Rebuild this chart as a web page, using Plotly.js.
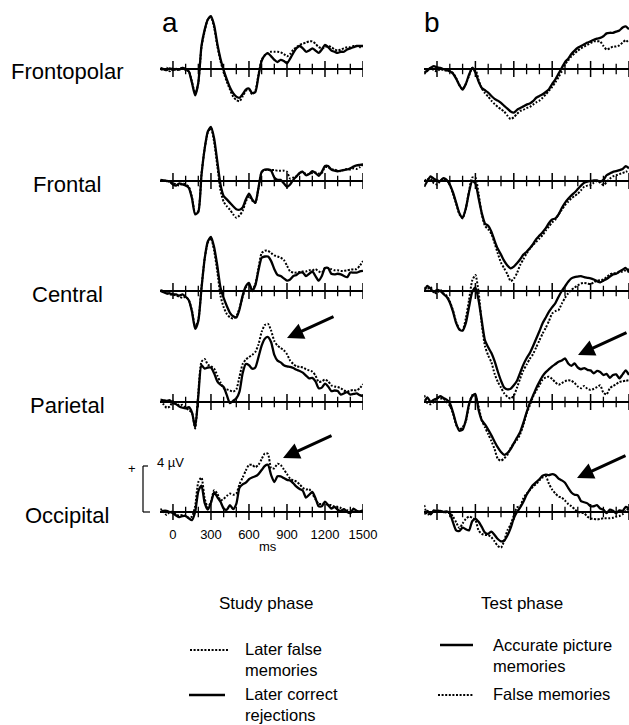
<!DOCTYPE html>
<html><head><meta charset="utf-8">
<script src="https://cdn.plot.ly/plotly-3.0.1.min.js"></script>
<style>html,body{margin:0;padding:0;background:#fff}#chart{width:629px;height:725px}</style>
</head><body><div id="chart"></div>
<script>
// ---------- DATA (µV, positive up) ----------
const timeMs = [-100,-75,-50,-25,0,25,50,75,100,125,150,175,200,225,250,275,300,325,350,375,400,425,450,475,500,525,550,575,600,625,650,675,700,725,750,775,800,825,850,875,900,925,950,975,1000,1025,1050,1075,1100,1125,1150,1175,1200,1225,1250,1275,1300,1325,1350,1375,1400,1425,1450,1475,1500];
const regions = ['Frontopolar','Frontal','Central','Parietal','Occipital'];
const tickValues = [0,300,600,900,1200,1500];
const tickLabels = ['0','300','600','900','1200','1500'];
const minorTickValues = [100,200,400,500,700,800,1000,1100,1300,1400];

// Study phase (a): later correct rejections (solid) / later false memories (dotted)
const studyCorrect_Fp = [0.1,0.0,-0.1,0.05,-0.1,0.0,-0.05,0.1,0.0,-0.2,-1.2,-2.3,-1.2,2.0,3.4,4.3,4.6,3.8,2.2,0.9,-0.1,-0.9,-1.6,-2.1,-2.4,-2.5,-2.2,-1.8,-1.7,-2.1,-2.0,-0.6,0.7,1.2,1.35,1.1,0.8,0.6,0.8,0.7,0.5,0.9,1.4,1.8,2.0,1.8,1.5,1.6,1.8,1.6,1.4,1.7,2.1,1.9,1.6,1.5,1.4,1.5,1.5,1.7,1.8,1.9,2.0,2.0,2.0];
const studyFalse_Fp = [0.0,-0.1,0.1,-0.2,0.1,-0.1,0.0,0.1,-0.1,-0.2,-1.1,-2.2,-1.2,1.9,3.3,4.3,4.5,3.6,2.0,0.7,-0.3,-1.1,-1.8,-2.4,-2.7,-2.8,-2.4,-1.9,-1.8,-2.2,-1.9,-0.5,0.8,1.2,1.4,1.5,1.5,1.5,1.45,1.3,1.1,1.3,1.7,1.9,2.1,2.2,2.3,2.4,2.4,2.2,1.9,1.8,1.9,2.0,1.9,1.7,1.6,1.7,1.8,1.9,1.9,2.0,2.0,1.9,2.0];
const studyCorrect_F = [0.1,0.05,0.0,-0.05,-0.3,-0.4,-0.2,-0.3,-0.4,-0.6,-1.5,-2.9,-2.7,0.5,2.8,4.3,4.7,3.7,1.7,-0.3,-1.3,-1.6,-1.9,-2.2,-2.45,-2.5,-2.3,-1.6,-1.1,-1.6,-1.9,-0.6,0.8,1.0,1.0,0.9,0.3,0.1,0.1,-0.2,-0.5,-0.3,0.1,0.4,0.7,0.8,0.5,0.6,0.85,0.7,0.45,0.8,1.3,1.3,1.0,0.9,0.85,0.9,0.95,1.0,1.1,1.25,1.35,1.4,1.45];
const studyFalse_F = [0.1,0.0,0.05,-0.1,-0.2,-0.3,-0.4,-0.2,-0.3,-0.5,-1.4,-2.8,-2.6,0.6,2.8,4.2,4.6,3.4,1.3,-0.8,-1.8,-2.2,-2.5,-2.9,-3.2,-3.0,-2.6,-1.8,-1.3,-1.7,-1.9,-0.6,0.75,0.95,0.95,0.95,0.95,0.9,0.9,0.9,0.8,0.2,0.3,0.4,0.7,0.8,0.6,0.6,0.7,0.75,0.65,0.7,1.2,1.2,1.0,1.0,0.9,0.85,1.0,1.05,1.0,1.1,1.05,1.2,1.45];
const studyCorrect_C = [0.0,-0.1,-0.2,-0.2,-0.3,-0.3,-0.4,-0.3,-0.5,-0.8,-1.8,-3.3,-2.6,0.2,2.8,4.3,4.7,3.8,2.2,0.3,-0.6,-1.3,-1.9,-2.2,-2.3,-1.6,-0.4,0.4,0.7,0.0,0.5,1.8,2.9,3.0,3.0,2.6,1.9,1.4,1.3,1.1,0.9,1.0,1.3,1.4,1.6,1.6,1.3,1.5,1.7,1.3,0.9,1.3,2.0,2.0,1.5,1.45,1.5,1.45,1.3,1.2,1.6,1.6,1.6,1.7,1.75];
const studyFalse_C = [0.1,0.0,-0.2,-0.3,-0.3,-0.4,-0.5,-0.6,-0.5,-0.8,-1.7,-3.1,-2.5,0.3,2.8,4.2,4.6,3.5,1.7,-0.4,-1.4,-2.0,-2.3,-2.4,-2.2,-1.5,-0.5,0.3,0.6,0.1,0.6,2.0,3.3,3.5,3.5,3.3,3.1,3.0,2.9,2.7,2.2,1.7,1.6,1.6,1.65,1.7,1.7,1.8,1.8,1.9,1.7,1.6,2.0,2.0,1.9,1.8,1.8,1.75,1.75,1.8,1.85,1.9,1.9,2.2,2.6];
const studyCorrect_P = [0.2,0.15,0.1,0.15,-0.1,-0.2,-0.4,-0.5,-0.55,-0.45,-0.9,-2.2,0.5,3.2,2.9,3.0,3.0,2.5,1.8,1.5,1.3,0.6,-0.1,0.1,0.3,0.9,2.5,3.3,3.2,2.9,3.0,3.9,4.9,5.5,5.65,5.2,4.1,3.6,3.45,3.2,3.1,3.05,2.95,2.8,2.7,2.55,2.3,2.05,2.1,1.8,1.2,1.25,1.6,1.35,0.95,1.0,0.95,0.65,0.75,0.85,0.65,0.7,0.75,0.6,0.52];
const studyFalse_P = [0.1,-0.2,-0.5,-0.4,0.1,-0.1,-0.3,-0.25,-0.5,-0.7,-0.95,-2.3,0.8,3.5,3.75,3.25,3.1,2.9,2.3,1.7,1.2,1.1,1.0,0.9,1.1,2.2,3.3,3.7,3.9,4.1,4.35,5.0,6.1,6.7,6.8,6.2,5.3,4.9,4.7,4.5,4.15,3.6,3.3,3.1,3.05,3.0,2.85,2.75,2.65,2.3,1.75,1.8,1.95,1.8,1.45,1.35,1.3,1.2,1.0,0.9,1.0,1.05,1.0,1.2,1.55];
const studyCorrect_O = [0.0,0.1,0.1,0.0,-0.1,-0.3,-0.45,-0.35,-0.35,-0.55,-0.7,0.0,1.8,2.3,0.8,0.2,0.8,1.7,1.3,0.9,0.3,0.2,0.6,0.25,0.7,2.1,2.4,2.55,2.85,3.0,3.1,3.3,3.65,4.0,4.1,3.2,2.6,3.1,3.1,2.95,2.8,2.75,2.5,2.2,2.0,1.85,1.25,1.5,1.75,1.2,0.5,0.5,0.9,0.6,0.3,0.45,0.2,0.1,0.25,0.0,-0.1,0.3,0.1,0.05,0.15];
const studyFalse_O = [0.3,0.0,-0.25,0.0,0.0,-0.25,-0.3,-0.25,-0.35,-0.5,-0.4,0.5,2.6,3.0,1.2,0.4,0.9,1.9,1.6,1.0,1.15,1.4,1.6,1.5,1.6,2.4,3.0,3.6,4.1,4.1,3.9,4.1,4.6,5.1,5.05,3.8,3.8,4.2,4.1,3.7,3.3,2.9,2.75,2.65,2.4,2.1,1.95,2.0,1.6,1.1,0.7,0.7,0.75,0.6,0.6,0.45,0.45,0.35,0.2,0.15,0.05,0.05,0.0,0.05,0.0];

// Test phase (b): accurate picture memories (solid) / false memories (dotted)
const testAccurate_Fp = [-0.3,-0.15,0.1,0.25,0.15,0.1,0.0,-0.1,-0.2,-0.4,-0.85,-1.4,-1.8,-1.3,-0.5,0.1,-0.3,-1.1,-1.65,-1.85,-2.05,-2.35,-2.6,-2.75,-2.95,-3.2,-3.45,-3.7,-3.8,-3.55,-3.4,-3.25,-3.1,-3.0,-2.8,-2.5,-2.35,-2.2,-2.0,-1.75,-1.3,-0.9,-0.4,0.1,0.6,0.9,1.3,1.6,1.85,2.0,2.15,2.3,2.4,2.55,2.65,2.7,2.85,3.1,3.15,3.15,3.25,3.35,3.6,3.7,3.45];
const testFalse_Fp = [-0.45,-0.1,0.1,-0.1,-0.2,0.0,-0.1,-0.15,-0.2,-0.35,-0.8,-1.4,-1.75,-1.3,-0.6,0.1,0.0,-0.95,-1.7,-2.1,-2.4,-2.75,-3.05,-3.3,-3.5,-3.7,-4.05,-4.35,-4.2,-3.9,-3.65,-3.55,-3.4,-3.3,-3.1,-2.9,-2.75,-2.5,-2.2,-1.9,-1.55,-1.15,-0.7,-0.2,0.4,0.75,1.1,1.35,1.6,1.8,1.95,2.1,2.25,2.4,2.4,2.4,2.0,1.7,1.8,1.95,1.95,2.05,2.3,2.5,2.25];
const testAccurate_F = [-0.5,0.0,0.4,0.2,0.05,0.0,0.25,0.1,-0.3,-1.0,-1.9,-2.8,-3.2,-2.4,-1.0,0.0,-0.2,-1.5,-2.8,-3.7,-3.9,-4.4,-5.2,-5.9,-6.4,-6.95,-7.35,-7.6,-7.45,-7.15,-6.8,-6.4,-6.15,-5.85,-5.5,-5.05,-4.75,-4.45,-4.1,-3.65,-3.35,-3.25,-2.9,-2.35,-1.9,-1.55,-1.25,-1.0,-0.7,-0.4,-0.15,-0.05,0.0,0.05,0.05,-0.05,0.1,0.5,0.65,0.8,0.85,0.95,1.05,1.3,1.1];
const testFalse_F = [0.0,0.15,0.2,-0.2,-0.3,0.0,0.2,0.1,-0.35,-1.1,-2.0,-2.9,-3.25,-2.4,-0.9,0.3,0.3,-1.1,-2.9,-3.9,-4.2,-4.6,-5.4,-6.3,-7.1,-7.6,-8.1,-8.7,-8.5,-8.0,-7.3,-6.8,-6.3,-5.9,-5.55,-5.3,-5.0,-4.7,-4.3,-3.95,-3.6,-3.35,-2.9,-2.5,-2.1,-1.8,-1.5,-1.3,-1.1,-0.8,-0.5,-0.4,-0.35,-0.15,0.0,-0.15,-0.35,-0.1,0.2,0.4,0.5,0.6,0.7,0.8,0.95];
const testAccurate_C = [0.0,0.45,0.2,-0.1,0.1,0.0,-0.25,-0.5,-1.0,-1.8,-2.8,-3.35,-3.45,-2.8,-1.4,-0.1,0.3,-0.8,-2.6,-4.3,-4.9,-5.4,-6.1,-7.0,-7.8,-8.4,-8.55,-8.5,-8.2,-7.8,-7.1,-6.4,-5.85,-5.4,-4.8,-4.15,-3.5,-2.8,-2.3,-1.8,-1.4,-1.05,-0.5,0.0,0.4,0.8,1.1,1.2,1.25,1.3,1.2,1.15,1.1,1.0,0.85,0.75,0.9,1.05,1.25,1.45,1.5,1.7,1.85,2.0,1.6];
const testFalse_C = [0.3,0.2,0.35,-0.1,-0.2,0.1,-0.2,-0.4,-0.9,-1.7,-2.7,-3.3,-3.4,-2.4,-0.8,0.9,1.4,-0.1,-2.9,-4.8,-5.6,-6.2,-7.2,-7.9,-8.4,-8.9,-9.2,-9.35,-9.1,-8.4,-7.6,-6.9,-6.4,-5.9,-5.5,-4.9,-4.3,-3.7,-3.2,-2.6,-1.95,-1.75,-1.65,-1.1,-0.6,-0.2,0.1,0.3,0.5,0.65,0.7,0.65,0.6,0.75,0.9,0.95,1.0,1.2,1.45,1.55,1.55,1.65,1.7,1.8,1.9];
const testAccurate_P = [0.0,0.4,0.0,0.2,0.3,0.5,0.35,0.2,-0.1,-0.9,-1.9,-2.5,-2.4,-1.6,-0.2,0.5,0.7,-0.7,-1.6,-1.95,-2.4,-2.9,-3.45,-3.95,-4.35,-4.6,-4.45,-4.1,-3.6,-3.1,-2.6,-1.8,-0.9,-0.1,0.55,1.2,1.75,2.25,2.6,2.85,3.1,3.3,3.5,3.6,3.8,3.35,3.15,3.35,3.0,2.85,2.95,2.8,2.75,2.5,2.7,2.6,2.35,2.45,2.1,2.35,2.4,2.05,2.4,2.75,2.35];
const testFalse_P = [0.6,-0.1,-0.2,0.0,0.4,0.3,0.3,0.0,-0.3,-1.0,-2.0,-2.4,-2.2,-1.7,-0.3,0.6,0.5,-0.4,-1.6,-2.2,-2.8,-3.4,-4.1,-4.95,-5.1,-4.9,-4.6,-4.0,-3.6,-3.3,-2.8,-2.0,-1.0,-0.3,0.45,1.0,1.45,1.95,2.15,2.2,2.0,1.7,1.5,1.65,1.8,1.9,1.85,1.65,1.35,1.2,1.4,1.15,1.05,1.15,1.3,1.45,0.8,0.65,1.2,1.4,1.55,1.75,1.8,1.85,1.9];
const testAccurate_O = [-0.2,0.1,-0.2,0.15,0.05,0.1,0.0,0.05,-0.1,-0.9,-1.6,-1.65,-1.35,-1.5,-1.6,-0.8,-0.6,-0.85,-1.3,-1.8,-1.9,-1.7,-2.0,-2.35,-2.55,-2.5,-2.05,-1.4,-0.55,0.0,0.4,0.9,1.5,1.95,2.35,2.6,2.85,3.15,3.25,3.2,3.3,3.2,2.9,2.75,2.55,2.1,1.7,1.5,1.45,0.95,0.85,0.75,0.5,0.5,0.6,0.3,0.2,-0.1,0.2,0.1,-0.1,0.15,0.1,0.45,0.3];
const testFalse_O = [0.6,-0.25,-0.1,0.0,0.15,0.05,0.0,-0.05,-0.1,-0.4,-0.9,-1.4,-1.0,-0.6,-0.4,-0.5,-0.7,-1.6,-1.9,-2.0,-2.0,-2.2,-2.55,-2.95,-3.1,-2.5,-1.6,-1.1,-0.3,0.4,0.5,1.2,1.6,1.9,2.2,2.45,2.75,3.0,3.1,2.45,1.95,1.6,1.35,1.25,1.0,0.7,0.5,0.25,0.0,-0.05,-0.1,-0.4,-0.55,-0.6,-0.65,-0.6,-0.55,-0.55,-0.55,-0.5,-0.4,-0.35,-0.2,0.1,0.3];

// ---------- LAYOUT GEOMETRY ----------
const W = 629, H = 725;
const PX_PER_UV = 11.5;
const baselinePx = [69, 181, 291, 402, 512];
const colPx = [[160.3, 363], [424.2, 629]];
const halfSpan = 120;
const fx = p => p / W, fy = p => 1 - p / H;
const FONT = 'Liberation Sans, Arial, Helvetica, sans-serif';

const panels = [
  [studyCorrect_Fp, studyFalse_Fp], [studyCorrect_F, studyFalse_F], [studyCorrect_C, studyFalse_C],
  [studyCorrect_P, studyFalse_P], [studyCorrect_O, studyFalse_O],
  [testAccurate_Fp, testFalse_Fp], [testAccurate_F, testFalse_F], [testAccurate_C, testFalse_C],
  [testAccurate_P, testFalse_P], [testAccurate_O, testFalse_O]
];

const traces = [];
const layout = {
  width: W, height: H, margin: {l:0, r:0, t:0, b:0},
  paper_bgcolor: '#fff', plot_bgcolor: 'rgba(0,0,0,0)',
  showlegend: false, font: {family: FONT, color: '#000'},
  annotations: [], shapes: []
};

panels.forEach((pair, k) => {
  const i = k + 1, col = Math.floor(k / 5), row = k % 5;
  const b = baselinePx[row];
  const top = Math.max(0, b - halfSpan), bot = Math.min(H, b + halfSpan);
  const xa = 'x' + i, ya = 'y' + i;
  const isLabelled = (col === 0 && row === 4);
  layout['xaxis' + i] = {
    domain: [fx(colPx[col][0]), fx(colPx[col][1])], range: [-100, 1500],
    anchor: 'free', position: fy(b), visible: isLabelled,
    showline: false, showgrid: false, zeroline: false,
    ticks: 'outside', ticklen: 10, tickcolor: 'rgba(0,0,0,0)',
    tickvals: tickValues, ticktext: tickLabels, tickfont: {size: 13, family: FONT, color: '#000'}
  };
  layout['yaxis' + i] = {
    domain: [fy(bot), fy(top)], range: [-(bot - b) / PX_PER_UV, (b - top) / PX_PER_UV],
    anchor: xa, showgrid: false, showline: false, showticklabels: false, ticks: '',
    zeroline: true, zerolinecolor: '#000', zerolinewidth: 1.5
  };
  // dotted
  traces.push({x: timeMs, y: pair[1], xaxis: xa, yaxis: ya, mode: 'lines', hoverinfo: 'skip',
    line: {color: '#000', width: 2, dash: '2px,1.6px', shape: 'spline', smoothing: 0.6}});
  // solid
  traces.push({x: timeMs, y: pair[0], xaxis: xa, yaxis: ya, mode: 'lines', hoverinfo: 'skip',
    line: {color: '#000', width: 2.3, shape: 'spline', smoothing: 0.6}});
  // axis ticks crossing the baseline
  traces.push({x: tickValues, y: tickValues.map(() => 0), xaxis: xa, yaxis: ya, mode: 'markers', hoverinfo: 'skip',
    marker: {symbol: 'line-ns-open', size: 11.5, color: '#000', line: {color: '#000', width: 1.5}}});
  traces.push({x: minorTickValues, y: minorTickValues.map(() => 0), xaxis: xa, yaxis: ya, mode: 'markers', hoverinfo: 'skip',
    marker: {symbol: 'line-ns-open', size: 7.5, color: '#000', line: {color: '#000', width: 1.3}}});
});

const A = layout.annotations, S = layout.shapes;
const txt = (x, y, text, size, opts) => A.push(Object.assign({xref:'paper', yref:'paper', x: fx(x), y: fy(y), text,
  showarrow: false, font: {size, family: FONT, color: '#000'}, xanchor: 'center', yanchor: 'middle'}, opts || {}));

regions.forEach((r, j) => txt(67, baselinePx[j] + 3, r, 22));
txt(170, 23, 'a', 28);
txt(432, 23, 'b', 28);
txt(268, 546, 'ms', 13);

// scale bar (4 µV) on the occipital study axis
S.push({type:'line', xref:'paper', yref:'y5', x0: fx(143), x1: fx(143), y0: 0, y1: 4, line:{color:'#000', width:1.2}});
S.push({type:'line', xref:'paper', yref:'y5', x0: fx(143), x1: fx(148), y0: 4, y1: 4, line:{color:'#000', width:1.2}});
S.push({type:'line', xref:'paper', yref:'y5', x0: fx(143), x1: fx(150), y0: 0, y1: 0, line:{color:'#000', width:1.2}});
A.push({xref:'paper', yref:'y5', x: fx(132), y: 4, yshift: -3, text:'+', showarrow:false, font:{size:13, family:FONT, color:'#000'}, xanchor:'center', yanchor:'middle'});
A.push({xref:'paper', yref:'y5', x: fx(155), y: 4, yshift: 3, text:'4 µV', showarrow:false, font:{size:13, family:FONT, color:'#000'}, xanchor:'left', yanchor:'middle'});

// arrows
[[287,338,335,316],[283,458,333,435],[578,355,628,332],[577,478,627,455]].forEach(a => {
  A.push({xref:'paper', yref:'paper', x: fx(a[0]), y: fy(a[1]), ax: a[2]-a[0], ay: a[3]-a[1], text:'',
    showarrow:true, arrowhead:2, arrowsize:1.1, arrowwidth:3, arrowcolor:'#000', standoff:0});
});

// legend
txt(266, 603, 'Study phase', 17);
txt(522, 603, 'Test phase', 17);
txt(243, 659, 'Later false<br>memories', 16.5, {xanchor:'left', align:'left'});
txt(243, 704, 'Later correct<br>rejections', 16.5, {xanchor:'left', align:'left'});
txt(491, 655, 'Accurate picture<br>memories', 16.5, {xanchor:'left', align:'left'});
txt(491, 694, 'False memories', 16.5, {xanchor:'left', align:'left'});
S.push({type:'line', xref:'paper', yref:'paper', x0: fx(190), x1: fx(228), y0: fy(650), y1: fy(650), line:{color:'#000', width:2, dash:'2px,1.6px'}});
S.push({type:'line', xref:'paper', yref:'paper', x0: fx(189), x1: fx(225), y0: fy(695), y1: fy(695), line:{color:'#000', width:2.3}});
S.push({type:'line', xref:'paper', yref:'paper', x0: fx(440), x1: fx(473), y0: fy(645), y1: fy(645), line:{color:'#000', width:2.3}});
S.push({type:'line', xref:'paper', yref:'paper', x0: fx(438), x1: fx(473), y0: fy(695), y1: fy(695), line:{color:'#000', width:2, dash:'2px,1.6px'}});

Plotly.newPlot('chart', traces, layout, {staticPlot: true, displayModeBar: false});
</script></body></html>
